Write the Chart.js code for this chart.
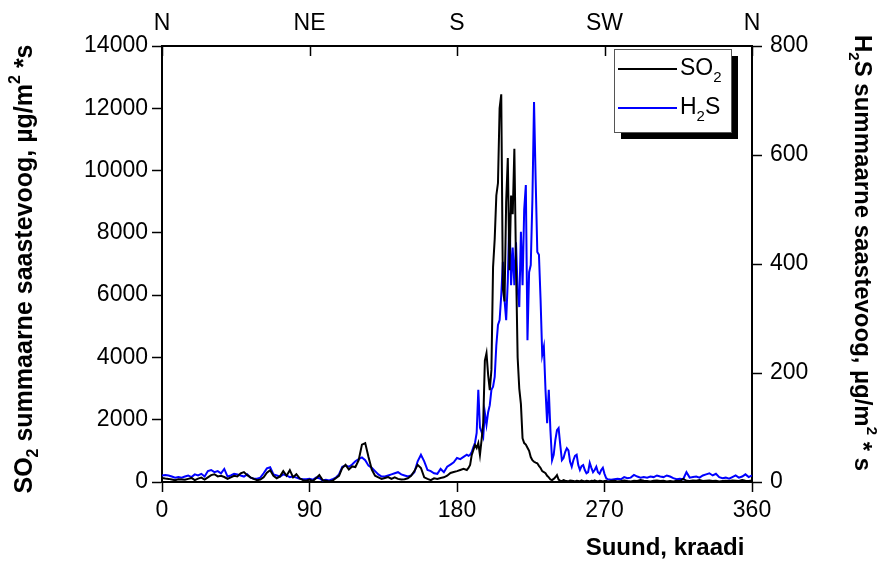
<!DOCTYPE html>
<html>
<head>
<meta charset="utf-8">
<script src="https://cdn.jsdelivr.net/npm/chart.js@4.4.1/dist/chart.umd.min.js"></script>
<style>
  html, body { margin: 0; padding: 0; background: #fff; }
  #wrap { width: 880px; height: 565px; }
</style>
</head>
<body>
<div id="wrap"><canvas id="graafik"></canvas></div>
<script>
// suund kraadides
const suunad = [0,2,4,6,8,10,12,14,16,18,20,22,24,26,28,30,32,34,36,38,40,42,44,46,48,50,52,54,56,58,60,62,64,66,68,70,72,74,76,78,80,82,84,86,88,90,92,94,96,98,100,102,104,106,108,110,112,114,116,118,120,122,124,126,128,130,132,134,136,138,140,142,144,146,148,150,152,154,156,158,160,162,164,166,168,170,172,174,176,178,180,182,184,
  186,187,188,189,190,191,192,193,194,195,196,197,198,199,200,201,202,203,204,205,206,207,208,209,210,211,212,213,214,215,216,217,218,219,220,221,222,223,224,225,226,227,228,229,230,231,232,233,234,235,236,237,238,239,240,241,242,243,244,245,246,247,248,249,250,251,252,253,254,255,256,257,258,259,260,261,262,263,264,265,266,267,268,269,270,271,272,
  274,276,278,280,282,284,286,288,290,292,294,296,298,300,302,304,306,308,310,312,314,316,318,320,322,324,326,328,330,332,334,336,338,340,342,344,346,348,350,352,354,356,358,360];

// SO2 summaarne saastevoog
const so2 = [130,110,100,80,60,90,80,70,100,130,60,110,140,80,150,220,250,180,200,160,100,150,200,180,280,320,220,150,100,60,80,150,300,380,200,120,180,350,200,380,150,250,120,60,40,80,30,120,220,60,40,20,40,120,200,450,550,400,500,480,700,1200,1250,800,400,200,150,100,130,160,100,150,100,80,90,120,200,350,550,450,150,100,60,120,100,130,150,200,290,320,350,385,420,
  385,450,545,870,1030,1190,1090,1250,870,1350,1900,3900,4140,3440,2950,3600,6900,7800,9200,9600,12000,12450,6200,5800,9000,10400,6800,9200,8600,10700,7000,4000,3000,2500,1400,1250,1200,1100,1000,800,700,650,620,600,520,450,350,320,280,200,150,80,60,100,150,220,80,40,30,60,40,30,20,50,40,30,20,40,30,20,50,30,20,40,30,20,40,30,50,30,20,40,30,20,30,40,20,
  30,40,20,30,50,30,20,40,30,60,40,30,20,40,50,30,40,20,30,20,40,30,100,40,30,50,40,60,30,40,50,30,40,20,30,40,30,50,40,30,60,40,30,50];

// H2S summaarne saastevoog
const h2s = [12,13,12,10,8,9,8,10,12,9,14,12,15,10,20,22,18,20,16,24,10,12,15,14,12,10,14,8,6,6,8,16,25,27,14,12,10,14,12,9,10,8,6,5,5,6,4,8,7,3,4,3,5,8,14,28,30,28,32,38,42,45,40,30,26,20,14,10,10,12,14,16,18,14,12,10,12,18,38,50,38,22,20,16,15,24,18,28,32,36,44,42,46,50,
  48,50,55,64,72,90,169,100,92,83,127,105,128,141,169,175,193,251,288,297,343,404,334,297,370,494,361,430,361,440,352,321,459,361,500,545,260,385,398,517,697,554,422,417,334,233,248,169,108,169,95,40,50,77,95,99,68,40,44,55,62,58,37,28,40,48,50,31,22,29,31,22,16,18,35,26,18,22,28,18,15,22,26,15,7,5,4,
  5,6,5,9,7,8,13,10,8,9,8,10,9,12,10,9,12,10,7,5,6,5,18,8,9,10,8,12,14,16,12,15,9,7,8,6,9,12,8,10,14,9,12,10];

const ilmakaared = ['N', 'NE', 'S', 'SW', 'N'];
const seeriad = ['SO2', 'H2S'];

const FONT = '"Liberation Sans", Arial, Helvetica, sans-serif';

function punktid(ys) {
  return suunad.map((s, i) => ({ x: s, y: ys[i] }));
}

// tekst ala- ja ülaindeksiga
function rikasTekst(ctx, osad, size) {
  let laius = 0;
  osad.forEach(o => {
    ctx.font = 'bold ' + (o.s ? Math.round(size * 0.62) : size) + 'px ' + FONT;
    o.w = ctx.measureText(o.t).width;
    laius += o.w;
  });
  let x = -laius / 2;
  osad.forEach(o => {
    ctx.font = 'bold ' + (o.s ? Math.round(size * 0.62) : size) + 'px ' + FONT;
    let dy = 0;
    if (o.s === 'sub') dy = size * 0.35;
    if (o.s === 'sup') dy = -size * 0.38;
    ctx.fillText(o.t, x, dy);
    x += o.w;
  });
}

const lisad = {
  id: 'lisad',
  afterDraw(chart) {
    const ctx = chart.ctx;
    const ca = chart.chartArea;
    ctx.save();
    ctx.fillStyle = '#000';
    ctx.textBaseline = 'middle';
    ctx.textAlign = 'left';

    // ülemise telje sissepoole suunatud kriipsud
    const x2 = chart.scales.x2;
    ctx.strokeStyle = '#000';
    ctx.lineWidth = 1.5;
    x2.ticks.forEach(t => {
      const px = Math.round(x2.getPixelForValue(t.value)) + 0.5;
      ctx.beginPath();
      ctx.moveTo(px, ca.top);
      ctx.lineTo(px, ca.top + 10);
      ctx.stroke();
    });

    // telgede pealkirjad
    ctx.save();
    ctx.translate(25, 269);
    ctx.rotate(-Math.PI / 2);
    rikasTekst(ctx, [{t: 'SO'}, {t: '2', s: 'sub'}, {t: ' summaarne saastevoog, µg/m'}, {t: '2', s: 'sup'}, {t: ' *s'}], 25);
    ctx.restore();

    ctx.save();
    ctx.translate(862, 253);
    ctx.rotate(Math.PI / 2);
    rikasTekst(ctx, [{t: 'H'}, {t: '2', s: 'sub'}, {t: 'S summaarne saastevoog, µg/m'}, {t: '2', s: 'sup'}, {t: ' * s'}], 24);
    ctx.restore();

    ctx.save();
    ctx.translate(665, 548);
    rikasTekst(ctx, [{t: 'Suund, kraadi'}], 24);
    ctx.restore();

    // legend varjuga
    const lx = 614, ly = 49, lw = 117, lh = 83;
    ctx.fillStyle = '#000';
    ctx.fillRect(lx + 7, ly + 7, lw, lh);
    ctx.fillStyle = '#fff';
    ctx.fillRect(lx, ly, lw, lh);
    ctx.strokeStyle = '#555';
    ctx.lineWidth = 1;
    ctx.strokeRect(lx + 0.5, ly + 0.5, lw, lh);
    const read = [69, 108];
    chart.data.datasets.forEach((ds, i) => {
      const y = read[i];
      ctx.strokeStyle = ds.borderColor;
      ctx.lineWidth = 2;
      ctx.beginPath();
      ctx.moveTo(618, y);
      ctx.lineTo(677, y);
      ctx.stroke();
      ctx.fillStyle = '#000';
      const osad = seeriad[i].replace('2', '|').split('|');
      let x = 680;
      ctx.font = '23px ' + FONT;
      ctx.fillText(osad[0], x, y);
      x += ctx.measureText(osad[0]).width;
      ctx.font = '15px ' + FONT;
      ctx.fillText('2', x, y + 9);
      x += ctx.measureText('2').width;
      ctx.font = '23px ' + FONT;
      ctx.fillText(osad[1], x, y);
    });
    ctx.restore();
  }
};

const tickFont = { family: FONT, size: 23 };
const telg = {
  color: '#000',
  width: 2
};
const kriipsud = { drawOnChartArea: false, tickLength: 10, tickColor: '#000', tickWidth: 1.5 };

new Chart(document.getElementById('graafik'), {
  type: 'line',
  data: {
    datasets: [{
      label: seeriad[0],
      data: punktid(so2),
      borderColor: '#000000',
      borderWidth: 2,
      pointRadius: 0,
      tension: 0,
      yAxisID: 'y'
    }, {
      label: seeriad[1],
      data: punktid(h2s),
      borderColor: '#0000ff',
      borderWidth: 2,
      pointRadius: 0,
      tension: 0,
      yAxisID: 'y2'
    }]
  },
  options: {
    responsive: true,
    maintainAspectRatio: false,
    animation: false,
    layout: { padding: 0 },
    plugins: {
      legend: { display: false },
      tooltip: { enabled: false }
    },
    scales: {
      x: {
        type: 'linear',
        position: 'bottom',
        min: 0,
        max: 360,
        ticks: { stepSize: 90, color: '#000', font: tickFont, padding: 5, callback: v => String(v) },
        grid: kriipsud,
        border: telg,
        afterFit: s => { s.height = 83; }
      },
      x2: {
        type: 'linear',
        position: 'top',
        min: 0,
        max: 360,
        ticks: {
          stepSize: 90,
          color: '#000',
          font: tickFont,
          padding: 9,
          callback: v => ilmakaared[v / 90]
        },
        grid: { drawOnChartArea: false, drawTicks: false },
        border: telg,
        afterFit: s => { s.height = 46; }
      },
      y: {
        position: 'left',
        min: 0,
        max: 14000,
        ticks: { stepSize: 2000, color: '#000', font: tickFont, padding: 4, callback: v => String(v) },
        grid: kriipsud,
        border: telg,
        afterFit: s => { s.width = 162; }
      },
      y2: {
        position: 'right',
        min: 0,
        max: 800,
        ticks: { stepSize: 200, color: '#000', font: tickFont, padding: 8, callback: v => String(v) },
        grid: kriipsud,
        border: telg,
        afterFit: s => { s.width = 128; }
      }
    }
  },
  plugins: [lisad]
});
</script>
</body>
</html>
